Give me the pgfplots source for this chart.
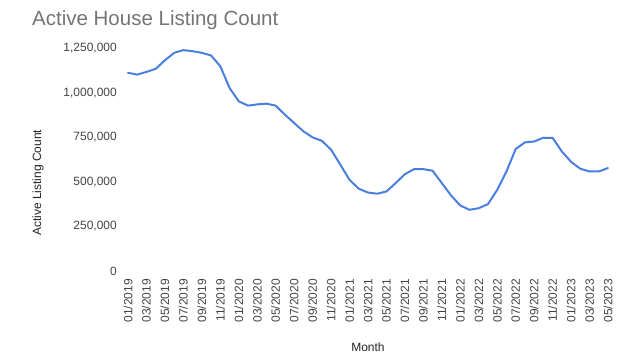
\documentclass[border=0pt]{standalone}
\usepackage{fontspec}
\setmainfont{Liberation Sans}
\usepackage{pgfplots}
\pgfplotsset{compat=1.18}
\definecolor{gblue}{HTML}{4A7FE0}
\definecolor{titlegray}{HTML}{757575}
\definecolor{ticktext}{HTML}{444444}
\definecolor{labeltext}{HTML}{222222}
\begin{document}
\begin{tikzpicture}
\path[use as bounding box] (-128bp,-90bp) rectangle (512bp,271bp);
\begin{axis}[
  at={(0,0)}, anchor=south west,
  scale only axis,
  width=480bp, height=223bp,
  xmin=0, xmax=52, ymin=0, ymax=1250000,
  axis line style={draw=none},
  major tick length=0pt,
  xtick={0,2,...,52},
  xticklabels={01/2019,03/2019,05/2019,07/2019,09/2019,11/2019,01/2020,03/2020,05/2020,07/2020,09/2020,11/2020,01/2021,03/2021,05/2021,07/2021,09/2021,11/2021,01/2022,03/2022,05/2022,07/2022,09/2022,11/2022,01/2023,03/2023,05/2023},
  ytick={0,250000,500000,750000,1000000,1250000},
  scaled y ticks=false,
  /pgf/number format/assume math mode=true,
  /pgf/number format/fixed,
  /pgf/number format/1000 sep={,},
  xticklabel style={rotate=90, anchor=east, inner sep=0pt, font=\fontsize{12bp}{14bp}\selectfont, text=ticktext},
  yticklabel style={anchor=east, inner sep=0pt, font=\fontsize{12bp}{14bp}\selectfont, text=ticktext},
  xticklabel shift=8bp,
  yticklabel shift=11bp,
  xlabel={Month},
  ylabel={Active Listing Count},
  every axis x label/.style={at={(axis description cs:0.5,-0.343)}, anchor=center, font=\fontsize{12bp}{14bp}\selectfont, text=labeltext},
  every axis y label/.style={at={(axis description cs:-0.1875,0.395)}, rotate=90, anchor=center, font=\fontsize{12bp}{14bp}\selectfont, text=labeltext},
  clip=false,
]
\addplot[gblue, line width=2bp, line join=round, line cap=round, mark=none] coordinates {
(0,1111000) (1,1101000) (2,1116000) (3,1133000) (4,1181000) (5,1223000)
(6,1238000) (7,1232000) (8,1223000) (9,1208000) (10,1148000) (11,1026000)
(12,951000) (13,927000) (14,934000) (15,938000) (16,927000) (17,876000)
(18,830000) (19,783000) (20,749000) (21,730000) (22,680000) (23,596000)
(24,511000) (25,461000) (26,440000) (27,433000) (28,446000) (29,493000)
(30,543000) (31,571000) (32,571000) (33,562000) (34,493000) (35,423000)
(36,367000) (37,343000) (38,352000) (39,375000) (40,455000) (41,558000)
(42,684000) (43,721000) (44,726000) (45,747000) (46,746000) (47,670000)
(48,612000) (49,573000) (50,558000) (51,558000) (52,577000)
};
\end{axis}
\node[anchor=base west, inner sep=0pt, text=titlegray, font=\fontsize{20.5bp}{24bp}\selectfont] at (-96bp,245bp) {Active House Listing Count};
\end{tikzpicture}
\end{document}
